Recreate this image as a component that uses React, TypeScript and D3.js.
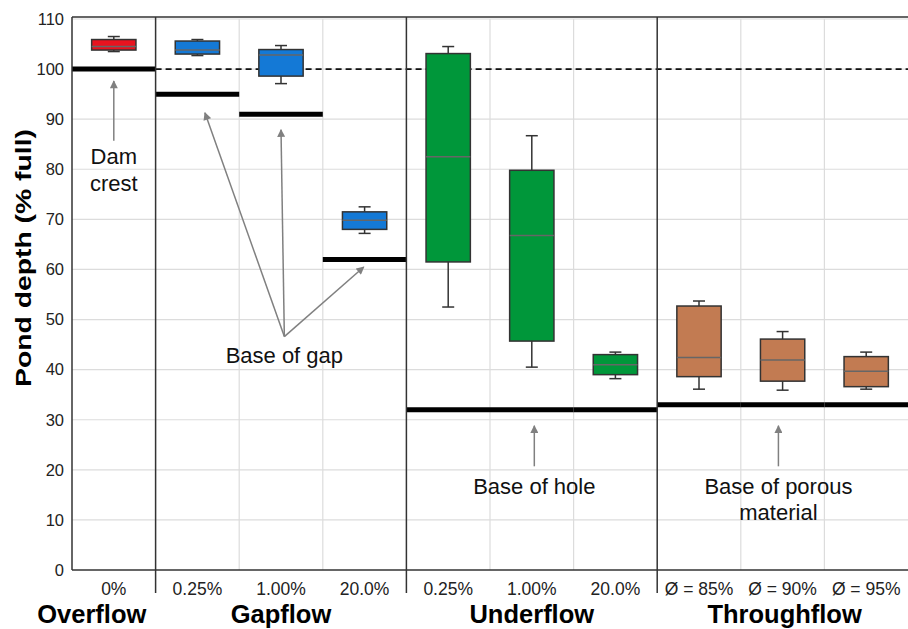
import React from 'react';
import * as d3 from 'd3';

// Pond depth box plots by flow type
const categories = ['0%', '0.25%', '1.00%', '20.0%', '0.25%', '1.00%', '20.0%', 'Ø = 85%', 'Ø = 90%', 'Ø = 95%'];
const groupNames = ['Overflow', 'Gapflow', 'Underflow', 'Throughflow'];
const groupOf = [0, 1, 1, 1, 2, 2, 2, 3, 3, 3];
const groupColors = ['#e8131f', '#1479d6', '#00973a', '#c27b52'];

const whiskerLow = [103.5, 102.7, 97.1, 67.2, 52.5, 40.5, 38.2, 36.1, 35.9, 36.1];
const q1 = [103.8, 103.0, 98.6, 68.0, 61.5, 45.7, 39.0, 38.6, 37.7, 36.6];
const median = [104.5, 103.8, 102.8, 69.8, 82.5, 66.8, 41.0, 42.4, 41.9, 39.7];
const q3 = [105.9, 105.6, 103.9, 71.5, 103.1, 79.8, 43.0, 52.7, 46.1, 42.6];
const whiskerHigh = [106.5, 105.9, 104.7, 72.5, 104.5, 86.7, 43.5, 53.7, 47.6, 43.5];

// thick black reference levels (dam crest, base of gap / hole / porous material)
const baseLevel = [100, 95, 91, 62, 32, 32, 32, 33, 33, 33];
const crestLevel = 100;
const yTicks = d3.range(0, 111, 10);

const W = 908;
const H = 629;
const FONT = '"Liberation Sans", Arial, Helvetica, sans-serif';

export default function App() {
  const x = d3.scaleBand<number>()
    .domain(d3.range(categories.length))
    .range([72, 908])
    .padding(0);
  const bw = x.bandwidth();
  const xAt = (c: number) => 72 + c * bw; // fractional column position
  const y = d3.scaleLinear().domain([0, 110]).range([570, 19]);

  const boxW = bw * 0.53;
  const capW = 12;

  // group spans
  const groups = groupNames.map((name, gi) => {
    const cols = categories.map((_, i) => i).filter(i => groupOf[i] === gi);
    return { name, start: cols[0], end: cols[cols.length - 1] + 1 };
  });
  const labelDx = [-22, 0, 0, 2];

  const arrowColor = '#808080';

  // annotation arrows: [col, value] -> [col, value]
  const annot = [
    { x1: 0.5, v1: 85.7, x2: 0.5, v2: 97.6 },
    { x1: 2.54, v1: 46.6, x2: 1.59, v2: 91.3 },
    { x1: 2.54, v1: 46.6, x2: 2.5, v2: 87.9 },
    { x1: 2.54, v1: 46.6, x2: 3.49, v2: 60.5 },
    { x1: 5.53, v1: 20.7, x2: 5.53, v2: 28.8 },
    { x1: 8.45, v1: 20.7, x2: 8.45, v2: 28.8 },
  ];

  const annotText = [
    { c: 0.5, v: 81, t: 'Dam' },
    { c: 0.5, v: 75.7, t: 'crest' },
    { c: 2.54, v: 41.3, t: 'Base of gap' },
    { c: 5.53, v: 15.2, t: 'Base of hole' },
    { c: 8.45, v: 15.2, t: 'Base of porous' },
    { c: 8.45, v: 9.9, t: 'material' },
  ];

  const sepCols = groups.slice(1).map(g => g.start);

  return (
    <svg width={W} height={H} style={{ position: 'absolute', left: 0, top: 0, background: '#fff' }}
      fontFamily={FONT}>
      <defs>
        <marker id="ah" viewBox="0 0 10 10" refX="9" refY="5" markerWidth="9" markerHeight="8"
          markerUnits="userSpaceOnUse" orient="auto">
          <path d="M0,0 L10,5 L0,10 z" fill={arrowColor} />
        </marker>
      </defs>

      {/* horizontal grid */}
      {yTicks.filter(t => t > 0).map(t => (
        <line key={'hg' + t} x1={72} x2={908} y1={y(t)} y2={y(t)} stroke="#dcdcdc" strokeWidth={1.2} />
      ))}
      {/* vertical grid (within groups) */}
      {categories.map((_, i) => i).filter(i => i > 0 && !sepCols.includes(i)).map(i => (
        <line key={'vg' + i} x1={x(i)!} x2={x(i)!} y1={y(110)} y2={y(0)} stroke="#dcdcdc" strokeWidth={1.2} />
      ))}

      {/* y tick labels */}
      {yTicks.map(t => (
        <text key={'yt' + t} x={64} y={y(t)} dy="0.35em" textAnchor="end" fontSize={16.5} fill="#222">{t}</text>
      ))}

      {/* y axis title */}
      <text transform={`translate(31,${258}) rotate(-90)`} textAnchor="middle" fontSize={22}
        fontWeight="bold" fill="#000" textLength={258} lengthAdjust="spacingAndGlyphs">Pond depth (% full)</text>

      {/* dashed crest line */}
      <line x1={x(1)!} x2={908} y1={y(crestLevel)} y2={y(crestLevel)} stroke="#111"
        strokeWidth={1.8} strokeDasharray="6,4" />

      {/* boxes */}
      {categories.map((_, i) => {
        const cx = x(i)! + bw / 2;
        return (
          <g key={'b' + i}>
            <line x1={cx} x2={cx} y1={y(whiskerHigh[i])} y2={y(q3[i])} stroke="#333" strokeWidth={1.5} />
            <line x1={cx} x2={cx} y1={y(q1[i])} y2={y(whiskerLow[i])} stroke="#333" strokeWidth={1.5} />
            <line x1={cx - capW / 2} x2={cx + capW / 2} y1={y(whiskerHigh[i])} y2={y(whiskerHigh[i])} stroke="#333" strokeWidth={1.5} />
            <line x1={cx - capW / 2} x2={cx + capW / 2} y1={y(whiskerLow[i])} y2={y(whiskerLow[i])} stroke="#333" strokeWidth={1.5} />
            <rect x={cx - boxW / 2} y={y(q3[i])} width={boxW} height={y(q1[i]) - y(q3[i])}
              fill={groupColors[groupOf[i]]} stroke="#333" strokeWidth={1.5} />
            <line x1={cx - boxW / 2} x2={cx + boxW / 2} y1={y(median[i])} y2={y(median[i])} stroke="#666" strokeWidth={1.5} />
          </g>
        );
      })}

      {/* base level thick lines */}
      {categories.map((_, i) => (
        <line key={'bl' + i} x1={x(i)!} x2={x(i)! + bw} y1={y(baseLevel[i])} y2={y(baseLevel[i])}
          stroke="#000" strokeWidth={5} />
      ))}

      {/* group separators */}
      {sepCols.map(c => (
        <line key={'sep' + c} x1={x(c)!} x2={x(c)!} y1={y(110) - 2} y2={593} stroke="#333" strokeWidth={1.5} />
      ))}

      {/* frame */}
      <line x1={72} x2={908} y1={y(110) - 2} y2={y(110) - 2} stroke="#333" strokeWidth={1.5} />
      <line x1={72} x2={72} y1={y(110) - 2} y2={y(0)} stroke="#333" strokeWidth={1.5} />
      <line x1={72} x2={908} y1={y(0)} y2={y(0)} stroke="#333" strokeWidth={1.5} />

      {/* annotation arrows */}
      {annot.map((a, k) => (
        <line key={'ar' + k} x1={xAt(a.x1)} y1={y(a.v1)} x2={xAt(a.x2)} y2={y(a.v2)}
          stroke={arrowColor} strokeWidth={1.5} markerEnd="url(#ah)" />
      ))}
      {annotText.map((a, k) => (
        <text key={'at' + k} x={xAt(a.c)} y={y(a.v)} textAnchor="middle" fontSize={22} fill="#111">{a.t}</text>
      ))}

      {/* x tick labels */}
      {categories.map((c, i) => (
        <text key={'xt' + i} x={x(i)! + bw / 2} y={595} textAnchor="middle" fontSize={17.5} fill="#222">{c}</text>
      ))}

      {/* group labels */}
      {groups.map((g, gi) => (
        <text key={'gl' + gi} x={(x(g.start)! + x(g.end - 1)! + bw) / 2 + labelDx[gi]} y={623}
          textAnchor="middle" fontSize={25.5} fontWeight="bold" fill="#000">{g.name}</text>
      ))}
    </svg>
  );
}
